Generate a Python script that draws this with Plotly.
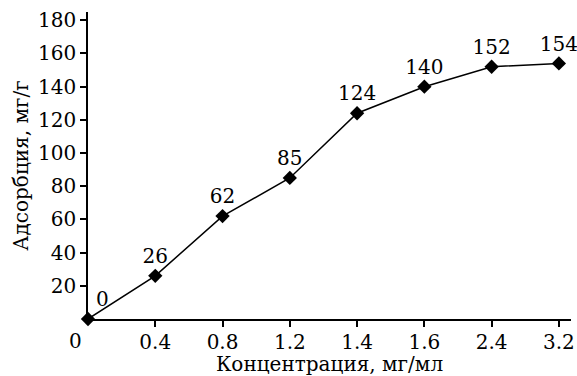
import plotly.graph_objects as go

categories = ["0", "0.4", "0.8", "1.2", "1.4", "1.6", "2.4", "3.2"]
values = [0, 26, 62, 85, 124, 140, 152, 154]
y_ticks = [20, 40, 60, 80, 100, 120, 140, 160, 180]

FONT = "DejaVu Serif"
FS = 20
positions = list(range(len(categories)))
XMAX = 7.18

fig = go.Figure()
fig.add_trace(go.Scatter(
    x=positions, y=values,
    mode="lines+markers+text",
    line=dict(color="black", width=1.5),
    marker=dict(symbol="diamond", size=11, color="black"),
    text=[str(v) for v in values],
    textposition=["top right"] + ["top center"] * (len(values) - 1),
    textfont=dict(family=FONT, size=FS, color="black"),
    cliponaxis=False,
    showlegend=False,
))

fig.update_layout(
    width=577, height=376,
    margin=dict(l=88, r=6, t=12, b=57, autoexpand=False),
    paper_bgcolor="white", plot_bgcolor="white",
    font=dict(family=FONT, size=FS, color="black"),
    xaxis=dict(
        range=[0, XMAX],
        tickvals=positions[1:], ticktext=categories[1:],
        showline=True, linecolor="black", linewidth=1.5,
        ticks="outside", ticklen=6, tickcolor="black", tickwidth=1.5,
        ticklabelstandoff=-2,
        showgrid=False, zeroline=False, automargin=False,
        title=dict(text="Концентрация, мг/мл", standoff=0, font=dict(size=FS)),
    ),
    yaxis=dict(
        range=[0, 185],
        tickvals=y_ticks,
        showline=True, linecolor="black", linewidth=1.5,
        ticks="outside", ticklen=6, tickcolor="black", tickwidth=1.5,
        showgrid=False, zeroline=False, automargin=False,
        title=dict(text="Адсорбция, мг/г", standoff=4, font=dict(size=FS)),
    ),
)

fig.add_annotation(
    x=-0.19 / XMAX, xref="paper", y=0, yref="paper",
    text=categories[0], showarrow=False,
    xanchor="center", yanchor="top", yshift=-8,
    font=dict(family=FONT, size=FS, color="black"),
)

fig.write_html("out.html", config={"displayModeBar": False},
               post_script="document.body.style.margin='0';")
